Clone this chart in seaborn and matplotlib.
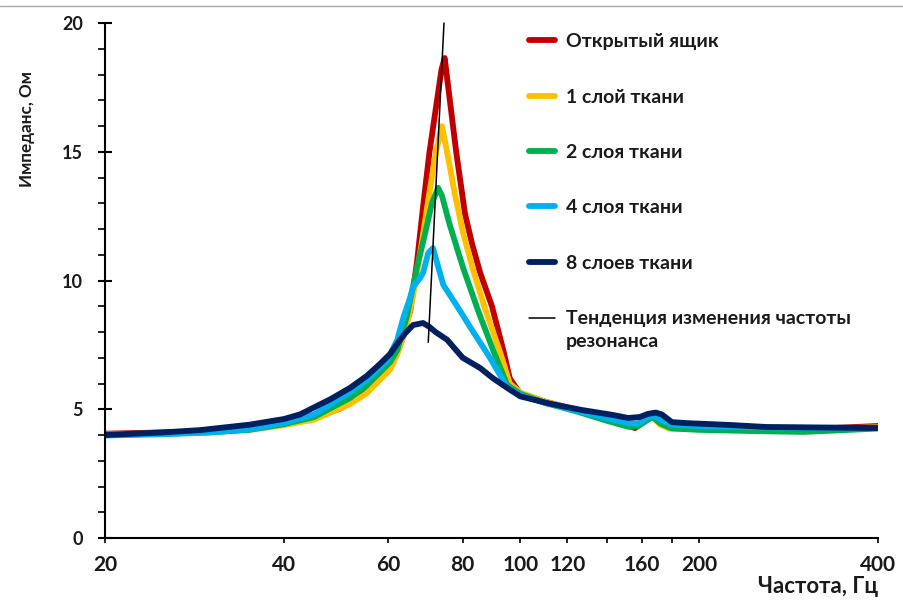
import matplotlib
matplotlib.use("Agg")
import matplotlib.pyplot as plt
import seaborn as sns
import pandas as pd
from matplotlib.ticker import FixedLocator, FixedFormatter, NullFormatter, MultipleLocator
from matplotlib.lines import Line2D
from matplotlib.legend_handler import HandlerLine2D

# ---- data ----
f_red = [20, 25, 30, 35, 40, 45, 50, 55, 58, 60.4, 63, 65.3, 67, 68.6, 70.3, 72, 73.7, 74.6, 76.2, 78, 80.7, 83, 85.6, 89.6, 93.6, 96, 100, 110, 125, 140, 150, 156, 161, 166, 170, 178, 190, 250, 300, 400]
v_red = [4.05, 4.1, 4.15, 4.25, 4.42, 4.65, 5.05, 5.75, 6.2, 6.6, 7.6, 8.85, 10.7, 12.85, 14.95, 16.6, 18.2, 18.64, 16.9, 15.0, 12.6, 11.4, 10.3, 9.0, 7.3, 6.2, 5.6, 5.3, 4.95, 4.6, 4.4, 4.27, 4.5, 4.75, 4.7, 4.4, 4.33, 4.25, 4.22, 4.35]

f_yel = [20, 25, 30, 35, 40, 45, 51.7, 55, 60.4, 62, 64, 66, 68, 70.3, 72, 73.8, 75, 77.7, 80, 83.3, 87, 92.5, 96, 100, 110, 125, 140, 152, 158, 162, 167, 172, 178, 190, 250, 300, 400]
v_yel = [4.02, 4.07, 4.12, 4.2, 4.38, 4.6, 5.2, 5.6, 6.55, 7.1, 8.0, 9.4, 11.2, 13.4, 14.9, 16.0, 15.2, 13.3, 11.9, 10.4, 9.0, 7.2, 6.0, 5.65, 5.3, 4.95, 4.6, 4.35, 4.35, 4.55, 4.7, 4.4, 4.25, 4.3, 4.25, 4.22, 4.3]

f_grn = [20, 25, 30, 35, 40, 45, 51.7, 55, 60.4, 62.1, 64.4, 67, 69.1, 71, 72.7, 73.8, 76, 80.1, 85, 90, 95, 100, 110, 125, 140, 152.5, 158, 163, 167, 172, 180, 200, 250, 300, 400]
v_grn = [4.0, 4.05, 4.1, 4.2, 4.42, 4.7, 5.44, 5.9, 6.83, 7.3, 8.6, 10.5, 11.8, 13.0, 13.6, 13.3, 12.2, 10.5, 8.8, 7.3, 5.95, 5.6, 5.25, 4.9, 4.55, 4.31, 4.35, 4.55, 4.7, 4.45, 4.25, 4.2, 4.15, 4.12, 4.25]

f_cyan = [20, 25, 30, 35, 40, 45, 51.7, 55, 59.7, 62.1, 63.6, 65.3, 66, 67.8, 68.6, 70, 71.3, 72.2, 74.2, 78.3, 82.3, 88.9, 95, 100, 110, 125, 140, 152, 158, 163, 168, 172, 180, 200, 250, 300, 400]
v_cyan = [3.98, 4.03, 4.1, 4.22, 4.47, 4.8, 5.67, 6.1, 6.9, 7.7, 8.58, 9.36, 9.75, 10.1, 10.3, 11.07, 11.26, 10.8, 9.83, 9.0, 8.2, 7.0, 5.86, 5.55, 5.25, 4.93, 4.65, 4.45, 4.45, 4.65, 4.75, 4.6, 4.4, 4.35, 4.3, 4.28, 4.28]

f_navy = [20, 25, 28.9, 35, 40, 42.6, 48, 51.7, 55.2, 58, 60.4, 62.1, 64, 66, 68.6, 70.3, 72, 75.3, 80, 85.6, 90, 96.2, 100, 112, 127, 143, 152, 159, 164, 169, 173, 180, 191, 225, 260, 400]
v_navy = [4.0, 4.1, 4.19, 4.4, 4.62, 4.8, 5.4, 5.83, 6.3, 6.75, 7.15, 7.55, 7.95, 8.27, 8.35, 8.2, 8.0, 7.7, 7.0, 6.6, 6.2, 5.75, 5.5, 5.22, 4.97, 4.78, 4.66, 4.7, 4.82, 4.87, 4.8, 4.5, 4.46, 4.39, 4.31, 4.27]

f_trend = [70.0, 74.4]
v_trend = [7.6, 20.0]

labels = ["Открытый ящик", "1 слой ткани", "2 слоя ткани", "4 слоя ткани", "8 слоев ткани",
          "Тенденция изменения частоты\nрезонанса"]
colors = ["#C00000", "#FFC000", "#00B050", "#00B0F0", "#002060", "#000000"]

x_ticks = [20, 40, 60, 80, 100, 120, 140, 160, 180, 200, 400]
x_tick_labels = ["20", "40", "60", "80", "100", "120", "", "160", "", "200", "400"]
y_ticks = [0, 5, 10, 15, 20]


class FirstLineHandler(HandlerLine2D):
    """Place the legend line level with the first line of a two-line label."""
    def __init__(self, shift, **kw):
        super().__init__(**kw)
        self.shift = shift

    def create_artists(self, legend, orig_handle, xdescent, ydescent, width, height, fontsize, trans):
        arts = super().create_artists(legend, orig_handle, xdescent, ydescent, width, height, fontsize, trans)
        for a in arts:
            if isinstance(a, Line2D):
                a.set_ydata([y + self.shift * fontsize for y in a.get_ydata()])
        return arts


# ---- plot ----
sns.set_theme(style="white")
plt.rcParams["font.family"] = ["Lato", "DejaVu Sans"]
plt.rcParams["font.weight"] = "bold"

fig = plt.figure(figsize=(9.04, 6.0), dpi=100)
ax = fig.add_axes([105 / 904, 62 / 600, 773 / 904, 515 / 600])

series = [(f_red, v_red), (f_yel, v_yel), (f_grn, v_grn), (f_cyan, v_cyan), (f_navy, v_navy)]
for (fx, vy), lab, col in zip(series, labels[:5], colors[:5]):
    df = pd.DataFrame({"f": fx, "v": vy})
    sns.lineplot(data=df, x="f", y="v", ax=ax, color=col, lw=4.2, sort=False,
                 estimator=None, label=lab, solid_joinstyle="round", solid_capstyle="round")
dft = pd.DataFrame({"f": f_trend, "v": v_trend})
sns.lineplot(data=dft, x="f", y="v", ax=ax, color=colors[5], lw=1.1, sort=False,
             estimator=None, label=labels[5])
trend_line = ax.lines[-1]
trend_line.set_clip_on(False)

ax.set_xscale("log")
ax.set_xlim(20, 400)
ax.set_ylim(0, 20)

for s in ["top", "right"]:
    ax.spines[s].set_visible(False)
for s in ["left", "bottom"]:
    ax.spines[s].set_color("black")
    ax.spines[s].set_linewidth(1.5)

ax.xaxis.set_major_locator(FixedLocator(x_ticks))
ax.xaxis.set_major_formatter(FixedFormatter(x_tick_labels))
ax.xaxis.set_minor_locator(FixedLocator([200]))
ax.xaxis.set_minor_formatter(NullFormatter())
ax.tick_params(axis="x", which="major", direction="out", length=3.5, width=1.2,
               color="black", pad=9, labelsize=15, labelcolor="#1a1a1a")
ax.tick_params(axis="x", which="minor", direction="inout", length=9, width=1.4, color="black")

ax.yaxis.set_major_locator(FixedLocator(y_ticks))
ax.yaxis.set_minor_locator(MultipleLocator(1))
ax.tick_params(axis="y", which="major", direction="inout", length=10, width=1.5,
               color="black", pad=11, labelsize=13, labelcolor="#1a1a1a")
ax.tick_params(axis="y", which="minor", direction="out", length=5, width=1.2, color="black")
ax.tick_params(left=True, bottom=True, which="both")

ax.set_ylabel("Импеданс, Ом", fontsize=12.3, fontweight="bold", color="#1a1a1a")
ax.yaxis.set_label_coords(-0.09, 0.795)
ax.set_xlabel("Частота, Гц", fontsize=16, fontweight="bold", color="#1a1a1a", loc="right")
ax.xaxis.set_label_coords(1.0, -0.074)

leg = ax.legend(loc="upper left", bbox_to_anchor=(0.548, 0.98), frameon=False,
                fontsize=14, handlelength=1.35, handletextpad=0.55, labelspacing=1.97,
                borderaxespad=0, borderpad=0,
                handler_map={trend_line: FirstLineHandler(0.62)})
for t in leg.get_texts():
    t.set_fontweight("bold")
    t.set_color("#1a1a1a")
    t.set_linespacing(1.45)

fig.add_artist(Line2D([0, 1], [0.99, 0.99], transform=fig.transFigure, color="#a8a8a8", lw=1))

fig.savefig("out.png", dpi=100, facecolor="white")
